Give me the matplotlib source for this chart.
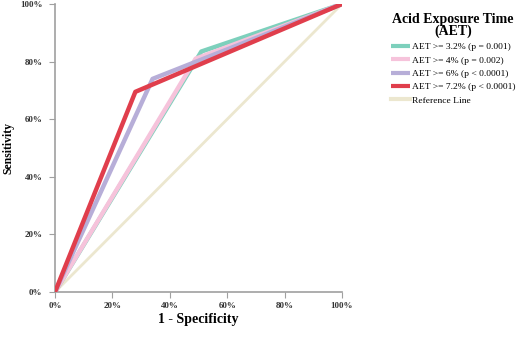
import matplotlib
matplotlib.use("Agg")
import matplotlib.pyplot as plt
from matplotlib.ticker import PercentFormatter

labels = ["AET >= 3.2% (p = 0.001)", "AET >= 4% (p = 0.002)",
          "AET >= 6% (p < 0.0001)", "AET >= 7.2% (p < 0.0001)"]
x_vals = [[0, 0.51, 1], [0, 0.49, 1], [0, 0.34, 1], [0, 0.28, 1]]
y_vals = [[0, 0.835, 1], [0, 0.81, 1], [0, 0.74, 1], [0, 0.695, 1]]
colors = ["#7dd0bc", "#f6c3db", "#b7aed8", "#e03e4c"]
ref_x = [0, 1]
ref_y = [0, 1]
ticks = [0, 0.2, 0.4, 0.6, 0.8, 1.0]

plt.rcParams['font.family'] = ['Liberation Serif', 'DejaVu Serif']
fig = plt.figure(figsize=(5.2, 3.39), dpi=100)
ax = fig.add_axes([55/520, 1-292/339, 287/520, 288/339])

ax.plot(ref_x, ref_y, color="#ece7cf", lw=2.0, label="Reference Line", zorder=1)
for xv, yv, c, lab, z in zip(x_vals, y_vals, colors, labels, [2, 3, 4, 5]):
    ax.plot(xv, yv, color=c, lw=3.2, label=lab, zorder=z, solid_capstyle='butt')

ax.set_xlim(0, 1)
ax.set_ylim(0, 1)
ax.set_xticks(ticks)
ax.set_yticks(ticks)
ax.xaxis.set_major_formatter(PercentFormatter(1.0, decimals=0))
ax.yaxis.set_major_formatter(PercentFormatter(1.0, decimals=0))
for s in ["top", "right"]:
    ax.spines[s].set_visible(False)
for s in ["left", "bottom"]:
    ax.spines[s].set_color("#a0a0a0")
    ax.spines[s].set_linewidth(1.2)
ax.tick_params(axis="y", length=4, color="#a0a0a0", labelsize=6.5, pad=5)
ax.tick_params(axis="x", length=4, color="#a0a0a0", labelsize=6.5, pad=3)
for t in ax.get_xticklabels() + ax.get_yticklabels():
    t.set_fontweight("bold")
    t.set_color("#333333")
ax.set_xlabel("1 - Specificity", fontsize=10, fontweight="bold")
ax.set_ylabel("Sensitivity", fontsize=8.5, fontweight="bold")
ax.xaxis.set_label_coords(0.5, -(320-292)/288, transform=ax.transAxes)
ax.yaxis.set_label_coords(-(55-8)/287, 0.5, transform=ax.transAxes)
ax.xaxis.label.set_va("center")
ax.yaxis.label.set_va("center")

handles, labs = ax.get_legend_handles_labels()
order = [1, 2, 3, 4, 0]
leg = fig.legend([handles[i] for i in order], [labs[i] for i in order],
                 loc="upper left", bbox_to_anchor=(391/520, 1-13/339),
                 title="Acid Exposure Time\n(AET)", frameon=False,
                 fontsize=6.8, handlelength=2.0, handletextpad=0.2,
                 labelspacing=0.5, borderaxespad=0, borderpad=0)
leg.get_title().set_fontweight("bold")
leg.get_title().set_fontsize(10)
leg.get_title().set_multialignment("center")
leg.get_title().set_linespacing(0.85)
for h in leg.get_lines():
    h.set_linewidth(3)

fig.savefig("out.png", dpi=100)
